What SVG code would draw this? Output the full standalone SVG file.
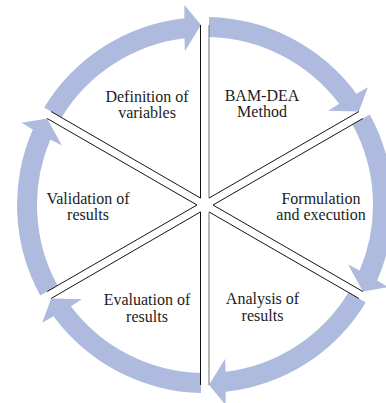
<svg xmlns="http://www.w3.org/2000/svg" xmlns:xlink="http://www.w3.org/1999/xlink" width="386" height="403" viewBox="0 0 386 403">
  <style>
    .ring { fill: #aebbde; stroke: none; }
    .edge { fill: none; stroke: #141414; stroke-width: 1; stroke-linejoin: miter; }
    .edge-soft { fill: none; stroke: #707070; stroke-width: 1; }
    .label { font-family: "Liberation Serif", "Times New Roman", serif; font-size: 16px; fill: #1c1c1c; text-anchor: middle; }
  </style>
  <defs>
    <!-- one 60-degree segment of the cycle ring, ending in an arrowhead; rotated about the centre (205,205) -->
    <path id="cycleArrow" class="ring" d="M 209 17.04 A 188 188 0 0 1 356.47 93.65 L 367.87 87.21 L 358.85 111.56 L 328.02 110.71 L 339.13 103.86 A 168 168 0 0 0 209 37.05 Z"/>
  </defs>

  <rect width="386" height="403" fill="#ffffff"/>

  <!-- cycle ring arrows -->
  <g id="connectors">
    <use xlink:href="#cycleArrow" href="#cycleArrow"/>
    <use xlink:href="#cycleArrow" href="#cycleArrow" transform="rotate(60 205 205)"/>
    <use xlink:href="#cycleArrow" href="#cycleArrow" transform="rotate(120 205 205)"/>
    <use xlink:href="#cycleArrow" href="#cycleArrow" transform="rotate(180 205 205)"/>
    <use xlink:href="#cycleArrow" href="#cycleArrow" transform="rotate(240 205 205)"/>
    <use xlink:href="#cycleArrow" href="#cycleArrow" transform="rotate(300 205 205)"/>
  </g>

  <!-- six sectors, each outlined by its two radial edges -->
  <g id="bam-dea">
    <line class="edge-soft" x1="209" y1="25.04" x2="209" y2="198.07"/>
    <line class="edge" x1="209" y1="198.07" x2="358.85" y2="111.56"/>
    <text class="label" x="262" y="101">BAM-DEA<tspan x="262" dy="16.3">Method</tspan></text>
  </g>

  <g id="formulation">
    <polyline class="edge" points="362.85,118.48 213,205 362.85,291.52"/>
    <text class="label" x="321" y="203.5">Formulation<tspan x="321" dy="16">and execution</tspan></text>
  </g>

  <g id="analysis">
    <line class="edge" x1="358.85" y1="298.44" x2="209" y2="211.93"/>
    <line class="edge-soft" x1="209" y1="211.93" x2="209" y2="384.96"/>
    <text class="label" x="262.5" y="304">Analysis of<tspan x="262.5" dy="17">results</tspan></text>
  </g>

  <g id="evaluation">
    <polyline class="edge" points="200.5,384.96 200.5,211.93 51.15,298.44"/>
    <text class="label" x="147" y="305">Evaluation of<tspan x="147" dy="16.5">results</tspan></text>
  </g>

  <g id="validation">
    <polyline class="edge" points="47.15,291.52 197,205 47.15,118.48"/>
    <text class="label" x="88" y="204">Validation of<tspan x="88" dy="16">results</tspan></text>
  </g>

  <g id="definition">
    <polyline class="edge" points="51.15,111.56 200.5,198.07 200.5,25.04"/>
    <text class="label" x="147" y="101.5">Definition of<tspan x="147" dy="16">variables</tspan></text>
  </g>
</svg>
